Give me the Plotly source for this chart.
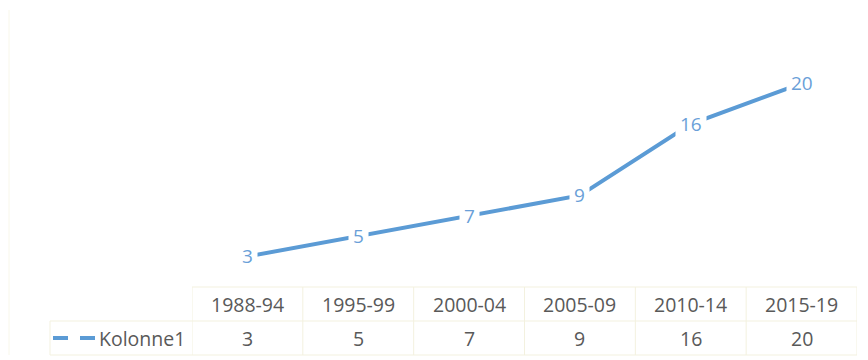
import plotly.graph_objects as go

categories = ["1988-94", "1995-99", "2000-04", "2005-09", "2010-14", "2015-19"]
values = [3, 5, 7, 9, 16, 20]
series_name = "Kolonne1"

W, H = 868, 360
ML, MR, MT, MB = 192, 11, 10, 73
PW = W - ML - MR
PH = H - MT - MB

def py(p):  # pixel y -> paper y
    return (H - MB - p) / PH

def px(p):  # pixel x -> paper x
    return (p - ML) / PW

LINE_COLOR = "#5b9bd5"
LABEL_COLOR = "#6a9fd8"
TEXT_COLOR = "#595959"
GRID = "#f3f1df"
FONT = "Open Sans, Liberation Sans, sans-serif"

xs = list(range(len(categories)))

fig = go.Figure()
fig.add_trace(go.Scatter(
    x=xs, y=values, mode="lines",
    line=dict(color=LINE_COLOR, width=4),
    name=series_name, showlegend=False, hoverinfo="skip",
))

annotations = []
for i, v in enumerate(values):
    annotations.append(dict(
        x=i, y=v, xref="x", yref="y", text=str(v), showarrow=False,
        font=dict(family=FONT, size=19, color=LABEL_COLOR),
        bgcolor="white", borderpad=4,
    ))
    # table header
    annotations.append(dict(
        x=i, y=py(304), xref="x", yref="paper", text=categories[i], showarrow=False,
        font=dict(family=FONT, size=19.5, color=TEXT_COLOR), yanchor="middle",
    ))
    # table values
    annotations.append(dict(
        x=i, y=py(338), xref="x", yref="paper", text=str(v), showarrow=False,
        font=dict(family=FONT, size=19.5, color=TEXT_COLOR), yanchor="middle",
    ))

annotations.append(dict(
    x=px(187), y=py(338), xref="paper", yref="paper", text=series_name, showarrow=False,
    xanchor="right", font=dict(family=FONT, size=19.5, color=TEXT_COLOR), yanchor="middle",
))

shapes = []
# legend key (dashed line)
for a, b in [(53, 68), (80, 95)]:
    shapes.append(dict(type="line", xref="paper", yref="paper",
                       x0=px(a), x1=px(b), y0=py(338), y1=py(338),
                       line=dict(color=LINE_COLOR, width=4)))
# table horizontal lines
shapes.append(dict(type="line", xref="paper", yref="paper", x0=0, x1=1, y0=py(287), y1=py(287),
                   line=dict(color=GRID, width=1)))
shapes.append(dict(type="line", xref="paper", yref="paper", x0=px(50), x1=1, y0=py(321), y1=py(321),
                   line=dict(color=GRID, width=1)))
shapes.append(dict(type="line", xref="paper", yref="paper", x0=px(50), x1=1, y0=py(355), y1=py(355),
                   line=dict(color=GRID, width=1)))
# table vertical lines
for i in range(len(categories) + 1):
    shapes.append(dict(type="line", xref="x", yref="paper", x0=i - 0.5, x1=i - 0.5,
                       y0=py(287), y1=py(355), line=dict(color=GRID, width=1)))
shapes.append(dict(type="line", xref="paper", yref="paper", x0=px(50), x1=px(50),
                   y0=py(321), y1=py(355), line=dict(color=GRID, width=1)))
# faint chart frame at left
shapes.append(dict(type="line", xref="paper", yref="paper", x0=px(9), x1=px(9),
                   y0=py(10), y1=py(355), line=dict(color="#f8f7ea", width=1)))

fig.update_layout(
    width=W, height=H,
    margin=dict(l=ML, r=MR, t=MT, b=MB),
    paper_bgcolor="white", plot_bgcolor="white",
    xaxis=dict(range=[-0.5, len(categories) - 0.5], showgrid=False, zeroline=False,
               showticklabels=False, showline=False, ticks=""),
    yaxis=dict(range=[0, PH / 10.18], showgrid=False, zeroline=False,
               showticklabels=False, showline=False, ticks=""),
    annotations=annotations, shapes=shapes, showlegend=False,
)

fig.write_html("out.html")
